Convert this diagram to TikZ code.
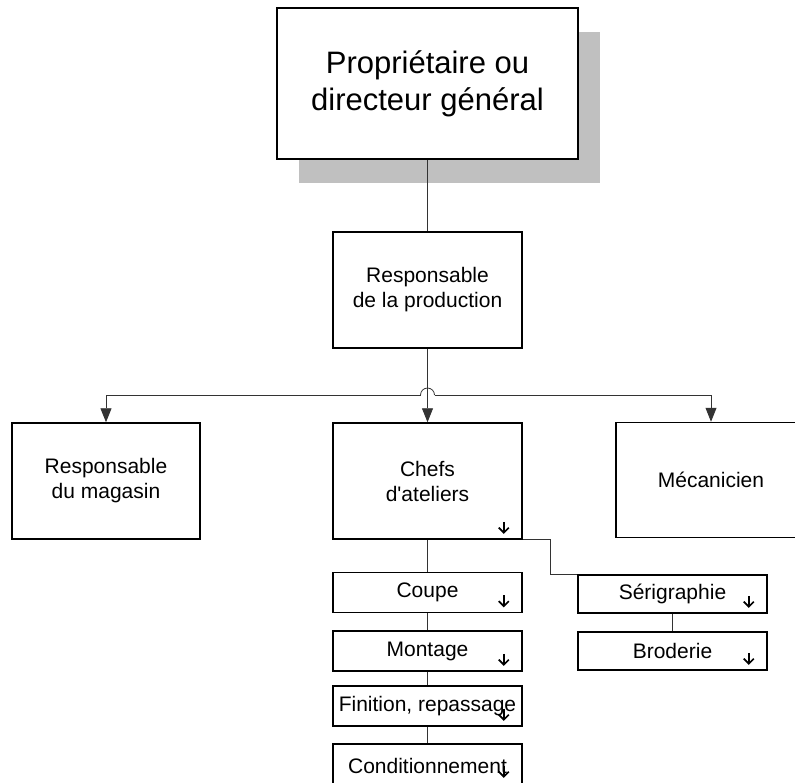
\documentclass[tikz,border=0pt]{standalone}
\usepackage{fontspec}
\setmainfont{Liberation Sans}
\usetikzlibrary{positioning,arrows.meta,shadows}
\definecolor{shadowgray}{HTML}{C0C0C0}
\tikzset{
  box/.style={draw, fill=white, line width=1.5pt, inner sep=0pt, align=center,
    font=\fontsize{21}{25}\selectfont},
  subbox/.style={box, minimum width=189pt, minimum height=40pt},
  link/.style={line width=0.8pt, draw=black!80},
  arr/.style={-{Triangle[length=14pt,width=11pt]}},
  pics/subarrow/.style={
    code = {
        \draw[line width=1.6pt, -{Straight Barb[length=5pt,width=10pt]}] (0,0) -- (0,-12pt);
    }
  }
}
\begin{document}
\begin{tikzpicture}[x=1pt, y=-1pt]
            \useasboundingbox (0,0) rectangle (795,782);
            \clip (0,0) rectangle (795,782);
            \node[box, minimum width=301pt, minimum height=151pt, font=\fontsize{31}{37}\selectfont,
              general shadow={fill=shadowgray, shadow xshift=22pt, shadow yshift=-24pt}]
              (DG) at (427.5,83.5) {Propriétaire ou\\directeur général};
            \node[box, minimum width=189pt, minimum height=116pt] (RP) at (427.5,290) {Responsable\\de la production};

            \node[box, minimum width=188pt, minimum height=116pt] (RM) at (106,481) {Responsable\\du magasin};
            \node[box, minimum width=189pt, minimum height=116pt] (CA) at (427.5,481) {Chefs\\d\textquotesingle ateliers};
            \node[box, minimum width=190pt, minimum height=115pt] (ME) at (711,480) {Mécanicien};

            \node[subbox] (CO) at (427.5,592.5) {Coupe};
            \node[subbox] (MO) at (427.5,651) {Montage};
            \node[subbox] (FI) at (427.5,706) {Finition, repassage};
            \node[subbox, minimum height=44pt] (CD) at (427.5,766) {Conditionnement};
            \node[subbox, minimum height=38pt] (SE) at (672.5,594) {Sérigraphie};
            \node[subbox, minimum height=38pt] (BR) at (672.5,651) {Broderie};

            \draw[link] (DG.south) -- (RP.north);
            \draw[link,arr] (RP.south) -- (CA.north);
            \coordinate (J) at (427.5,395);
            \draw[link,arr] ([xshift=-7pt]J) -- (J -| RM.north) -- (RM.north);
            \draw[link,arr] ([xshift=7pt]J) -- (J -| ME.north) -- (ME.north);
            \draw[link] ([xshift=-7pt]J) arc[start angle=180, end angle=0, radius=7pt];

            \draw[link] (CA.south) -- (CO.north);
            \draw[link] (CO.south) -- (MO.north);
            \draw[link] (MO.south) -- (FI.north);
            \draw[link] (FI.south) -- (CD.north);
            \draw[link] (CA.south east) -- ++(28pt,0) |- (SE.north west);
            \draw[link] (SE.south) -- (BR.north);

            \foreach \n in {CA,CO,MO,FI,SE,BR}
                \pic at ([shift={(-19pt,18pt)}]\n.south east) {subarrow};
            \pic at ([shift={(-19pt,23pt)}]CD.south east) {subarrow};
        \end{tikzpicture}
\end{document}
